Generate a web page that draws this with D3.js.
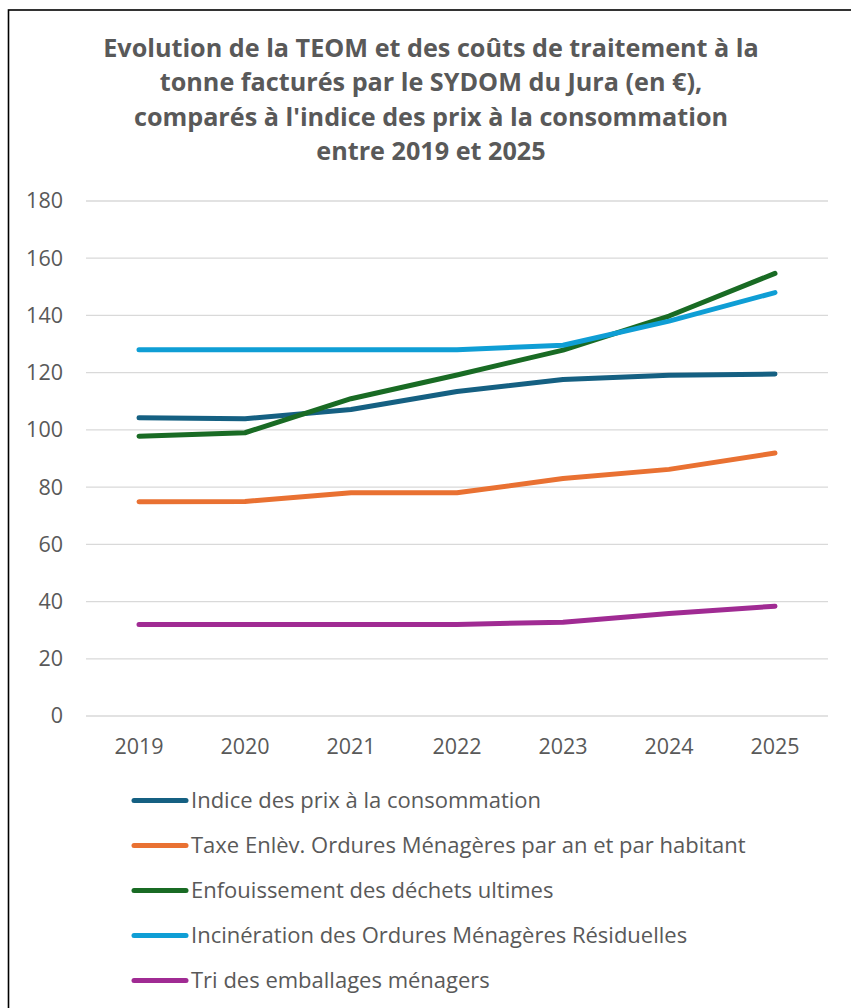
<!DOCTYPE html>
<html>
<head>
<meta charset="utf-8">
<script src="https://cdn.jsdelivr.net/npm/d3@7"></script>
<style>
  body { margin: 0; background: #fff; }
  text { font-family: 'Open Sans', 'Noto Sans', sans-serif; fill: #595959; }
</style>
</head>
<body>
<div class="graphic"></div>
<script>
const years = ['2019', '2020', '2021', '2022', '2023', '2024', '2025'];
const yTicks = [0, 20, 40, 60, 80, 100, 120, 140, 160, 180];

const indicePrix = [104.2, 103.9, 107.1, 113.4, 117.6, 119.1, 119.5];
const teom = [74.9, 75, 78, 78, 83, 86.2, 91.9];
const enfouissement = [97.8, 99, 110.9, 119.2, 127.9, 139.8, 154.7];
const incineration = [128, 128, 128, 128, 129.6, 138, 148];
const triEmballages = [32, 32, 32, 32, 32.8, 35.8, 38.4];

const seriesNames = [
  'Indice des prix à la consommation',
  'Taxe Enlèv. Ordures Ménagères par an et par habitant',
  'Enfouissement des déchets ultimes',
  'Incinération des Ordures Ménagères Résiduelles',
  'Tri des emballages ménagers'
];
const seriesColors = ['#156082', '#E97132', '#196B24', '#0F9ED5', '#A02B93'];
const titleLines = [
  'Evolution de la TEOM et des coûts de traitement à la',
  'tonne facturés par le SYDOM du Jura (en €),',
  'comparés à l\'indice des prix à la consommation',
  'entre 2019 et 2025'
];

const series = [indicePrix, teom, enfouissement, incineration, triEmballages].map((values, i) => ({
  name: seriesNames[i],
  color: seriesColors[i],
  values: values
}));

const width = 851;
const height = 1008;
const plot = { left: 86, right: 828, top: 201, bottom: 716 };

const svg = d3
  .select('.graphic')
  .append('svg')
  .attr('width', width)
  .attr('height', height);

// chart frame
svg
  .append('rect')
  .attr('x', 8.5)
  .attr('y', 10)
  .attr('width', 860)
  .attr('height', 1020)
  .attr('fill', 'none')
  .attr('stroke', '#000')
  .attr('stroke-width', 1.6);

svg
  .selectAll('text.title')
  .data(titleLines)
  .enter()
  .append('text')
  .attr('class', 'title')
  .attr('x', 431)
  .attr('y', (d, i) => 57 + i * 34.3)
  .attr('text-anchor', 'middle')
  .style('font-size', '25.2px')
  .style('font-weight', 'bold')
  .text(d => d);

const x = d3.scaleBand().domain(years).range([plot.left, plot.right]);
const y = d3.scaleLinear().domain([0, 180]).range([plot.bottom, plot.top]);

// gridlines
svg
  .selectAll('line.grid')
  .data(yTicks)
  .enter()
  .append('line')
  .attr('class', 'grid')
  .attr('x1', plot.left)
  .attr('x2', plot.right)
  .attr('y1', d => y(d))
  .attr('y2', d => y(d))
  .attr('stroke', '#d9d9d9')
  .attr('stroke-width', 1.3);

const yAxis = svg
  .append('g')
  .attr('transform', `translate(${plot.left},0)`)
  .call(d3.axisLeft(y).tickValues(yTicks).tickSize(0).tickPadding(23));
yAxis.select('.domain').remove();
yAxis.selectAll('text').style('font-size', '21.5px').attr('fill', '#595959');

const xAxis = svg
  .append('g')
  .attr('transform', `translate(0,${plot.bottom})`)
  .call(d3.axisBottom(x).tickSize(0).tickPadding(23));
xAxis.select('.domain').remove();
xAxis.selectAll('text').style('font-size', '21.5px').attr('fill', '#595959');

const line = d3
  .line()
  .x((d, i) => x(years[i]) + x.bandwidth() / 2)
  .y(d => y(d));

svg
  .selectAll('path.series')
  .data(series)
  .enter()
  .append('path')
  .attr('class', 'series')
  .attr('d', d => line(d.values))
  .attr('fill', 'none')
  .attr('stroke', d => d.color)
  .attr('stroke-width', 5)
  .attr('stroke-linecap', 'round')
  .attr('stroke-linejoin', 'round');

// legend
const legend = svg
  .selectAll('g.legend')
  .data(series)
  .enter()
  .append('g')
  .attr('class', 'legend')
  .attr('transform', (d, i) => `translate(0,${800.5 + i * 45})`);

legend
  .append('line')
  .attr('x1', 134)
  .attr('x2', 186)
  .attr('stroke', d => d.color)
  .attr('stroke-width', 5)
  .attr('stroke-linecap', 'round');

legend
  .append('text')
  .attr('x', 191)
  .attr('dy', '0.35em')
  .style('font-size', '22px')
  .text(d => d.name);
</script>
</body>
</html>
